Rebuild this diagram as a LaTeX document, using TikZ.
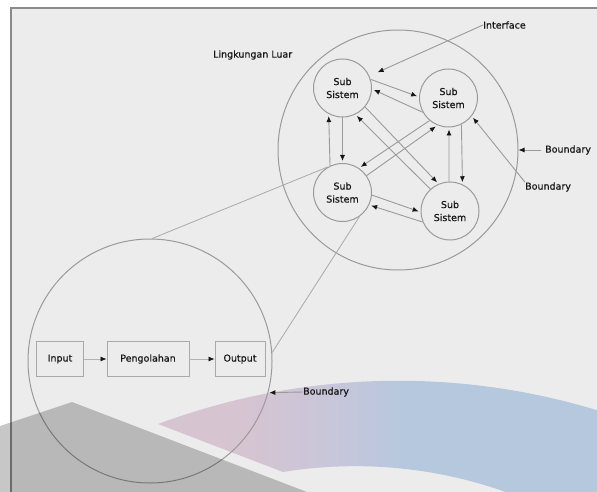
\documentclass[tikz,border=0pt]{standalone}
\usepackage{fontspec}
\setmainfont{DejaVu Sans}
\newfontfamily\diagfont{DejaVu Sans}[FakeBold=0.6]
\usetikzlibrary{arrows.meta}

\definecolor{bgcol}{HTML}{ECECEC}
\definecolor{framecol}{HTML}{8A8A8A}
\definecolor{linecol}{HTML}{9A9A9A}
\definecolor{inkcol}{HTML}{161616}
\definecolor{bandpink}{HTML}{D6C4D1}
\definecolor{bandmid}{HTML}{C8C6DA}
\definecolor{bandblue}{HTML}{B5C8DE}

% horizontal colour run of the curved band (path spans 25bp..75bp)
\pgfdeclarehorizontalshading{bandshade}{100bp}{%
  color(0bp)=(bandpink); color(34bp)=(bandpink); color(43bp)=(bandmid);
  color(51bp)=(bandblue); color(100bp)=(bandblue)}

\tikzset{
  lbl/.style={font=\diagfont\fontsize{9.5}{13}\selectfont, text=inkcol, inner sep=0pt},
  subsys/.style={circle, draw=linecol, line width=1pt, minimum size=58pt,
    inner sep=0pt, align=center, font=\diagfont\fontsize{9.5}{13}\selectfont, text=inkcol},
  ring/.style={circle, draw=linecol, line width=1pt, inner sep=0pt},
  flow/.style={draw=linecol, line width=0.9pt,
    -{Latex[length=6pt,width=5pt,color=inkcol]}, shorten >=2pt},
  procbox/.style={draw=linecol!85, line width=0.9pt, minimum height=35pt,
    inner sep=0pt, font=\diagfont\fontsize{9.5}{13}\selectfont, text=inkcol},
  zoomline/.style={draw=linecol!85, line width=0.8pt},
}

\begin{document}
\begin{tikzpicture}[x=1pt, y=-1pt]
  \useasboundingbox (0,0) rectangle (597,492);

  % page and panel
  \fill[white] (0,0) rectangle (597,492);
  \fill[bgcol] (11,8) rectangle (597,492);

  % curved decorative band
  \begin{scope}
    \clip (0,0) rectangle (597,492);
    \shade[shading=bandshade]
      (158,424) .. controls (313.5,366.3) and (484.3,366.1) .. (640,424.8)
      -- (640,560) -- (600,538.5)
      .. controls (506.3,477.7) and (393.2,454.1) .. (283,472) -- cycle;
  \end{scope}

  % panel frame
  \draw[framecol, line width=1.6pt] (11,492) -- (11,8) -- (597,8);

  % environment with four subsystems
  \node[ring, minimum size=240pt] (env) at (398,150) {};
  \node[lbl, anchor=west] (envlbl) at (213,55) {Lingkungan Luar};

  \node[subsys] (tl) at (342.5,88)  {Sub\\Sistem};
  \node[subsys] (tr) at (448.5,98)  {Sub\\Sistem};
  \node[subsys] (bl) at (342.5,192.5) {Sub\\Sistem};
  \node[subsys] (br) at (450,211)   {Sub\\Sistem};

  % interactions between subsystems
  \draw[flow] (tl.17)  -- (tr.178);
  \draw[flow] (tr.209) -- (tl.358);
  \draw[flow] (tl.270) -- (bl.90);
  \draw[flow] (bl.115) -- (tl.242);
  \draw[flow] (tl.320) -- (br.113);
  \draw[flow] (br.132) -- (tl.296);
  \draw[flow] (tr.230) -- (bl.56);
  \draw[flow] (bl.35)  -- (tr.248);
  \draw[flow] (tr.296) -- (br.65);
  \draw[flow] (br.92)  -- (tr.271);
  \draw[flow] (bl.355) -- (br.182);
  \draw[flow] (br.202) -- (bl.335);

  % callouts on the environment
  \node[lbl, anchor=west] (iface) at (483,25) {Interface};
  \draw[flow, shorten >=9pt] (iface.west) -- (tl);

  \node[lbl, anchor=west] (bnd1) at (545,150) {Boundary};
  \draw[flow, shorten <=4pt, shorten >=0pt] (bnd1.west) -- (env.east);

  \node[lbl, anchor=west] (bnd2) at (525,187) {Boundary};
  \draw[flow] (bnd2.north west) -- (tr.322);

  % system seen in detail
  \node[ring, minimum size=244pt] (sys) at (150,361) {};

  \node[procbox, minimum width=47pt] (inp)  at (60,359)  {Input};
  \node[procbox, minimum width=82pt] (proc) at (148,359) {Pengolahan};
  \node[procbox, minimum width=50pt] (outp) at (240,359) {Output};
  \draw[flow, draw=linecol!75, line width=0.7pt, shorten >=0pt] (inp) -- (proc);
  \draw[flow, draw=linecol!75, line width=0.7pt, shorten >=0pt] (proc) -- (outp);

  \node[lbl, anchor=west] (bnd3) at (303,392) {Boundary};
  \draw[flow, shorten >=1pt] (bnd3.west) -- (sys.345);

  % zoom lines from the system to one subsystem
  \draw[zoomline] (sys.89) -- (bl.120);
  \draw[zoomline] (sys.4)  -- (bl.305);

  % translucent grey wedge
  \begin{scope}
    \clip (0,0) rectangle (597,492);
    \fill[black, opacity=0.22] (72,402) -- (0,426) -- (0,492) -- (307,492) -- cycle;
  \end{scope}
\end{tikzpicture}
\end{document}
